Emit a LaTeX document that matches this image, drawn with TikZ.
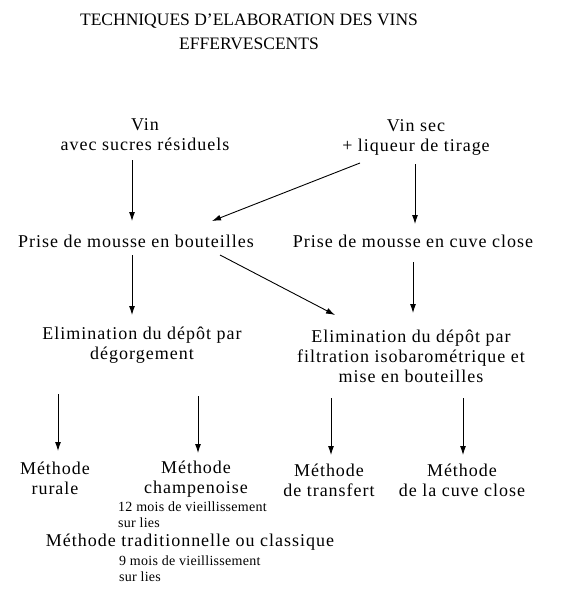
\documentclass[tikz,border=0pt]{standalone}
\usepackage{fontspec}
\setmainfont{Liberation Serif}
\newfontfamily\wide[LetterSpace=5.5]{Liberation Serif}
\newfontfamily\widesmall[LetterSpace=2]{Liberation Serif}
\usetikzlibrary{arrows.meta,calc}
\begin{document}
\begin{tikzpicture}[x=1pt,y=-1pt,
  lbl/.style={align=center,inner sep=0pt,font=\wide\fontsize{18}{20}\selectfont},
  note/.style={align=left,anchor=west,inner sep=0pt,font=\widesmall\fontsize{14}{16}\selectfont},
  arr/.style={-{Latex[length=9pt,width=6pt]},line width=0.9pt}]
\useasboundingbox[fill=white] (0,0) rectangle (583,597);
\node[align=center,inner sep=0pt,font=\fontsize{17.5}{24}\selectfont] (title) at (249,32) {TECHNIQUES D'ELABORATION DES VINS\\EFFERVESCENTS};
\node[lbl] (vin) at (145,135) {Vin\\avec sucres résiduels};
\node[lbl] (vinsec) at (416,137) {Vin sec\\+ liqueur de tirage};
\node[lbl] (pmb) at (136,241) {Prise de mousse en bouteilles};
\node[lbl] (pmc) at (413,241) {Prise de mousse en cuve close};
\node[lbl] (el1) at (142,345) {Elimination du dépôt par\\dégorgement};
\node[lbl] (el2) at (411,356) {Elimination du dépôt par\\filtration isobarométrique et\\mise en bouteilles};
\node[lbl] (rur) at (55,478) {Méthode\\rurale};
\node[lbl] (cha) at (196,479) {Méthode\\champenoise};
\node[lbl] (tra) at (329,480) {Méthode\\de transfert};
\node[lbl] (cuv) at (462,480) {Méthode\\de la cuve close};
\node[note] (n12) at (118,515) {12 mois de vieillissement\\sur lies};
\node[lbl] (trad) at (190,542) {Méthode traditionnelle ou classique};
\node[note] (n9) at (119,569) {9 mois de vieillissement\\sur lies};
% connectors
\draw[arr] ($(vin.center)+(-13,25)$) -- ($(pmb.center)+(-4,-20)$);
\draw[arr] ($(vinsec.center)+(-1,27)$) -- ($(pmc.center)+(2,-17)$);
\draw[arr] ($(vinsec.center)+(-56,26)$) -- ($(pmb.center)+(76,-20)$);
\draw[arr] ($(pmb.center)+(-4,14)$) -- ($(el1.center)+(-10,-30)$);
\draw[arr] ($(pmb.center)+(84,14)$) -- ($(el2.center)+(-76,-41)$);
\draw[arr] ($(pmc.center)+(0,21)$) -- ($(el2.center)+(2,-43)$);
\draw[arr] ($(el1.center)+(-84,49)$) -- ($(rur.center)+(3,-27)$);
\draw[arr] ($(el1.center)+(56,51)$) -- ($(cha.center)+(2,-26)$);
\draw[arr] ($(el2.center)+(-80,42)$) -- ($(tra.center)+(2,-25)$);
\draw[arr] ($(el2.center)+(52,42)$) -- ($(cuv.center)+(1,-25)$);
\end{tikzpicture}
\end{document}
